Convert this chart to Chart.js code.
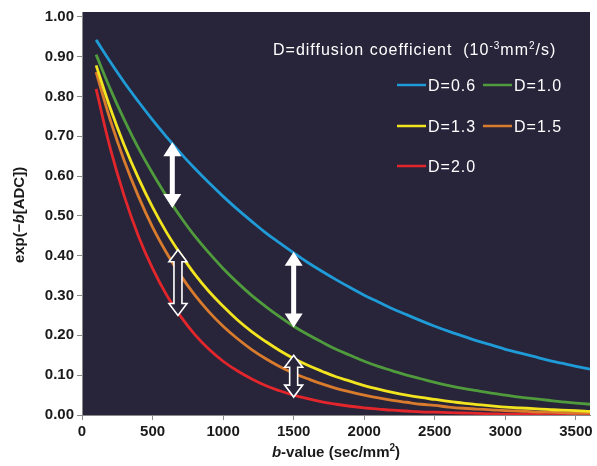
<!DOCTYPE html>
<html>
<head>
<meta charset="utf-8">
<script src="https://cdn.jsdelivr.net/npm/chart.js@4.4.1/dist/chart.umd.min.js"></script>
<style>
  body { margin: 0; background: #fff; }
  #wrap { width: 597px; height: 466px; }
</style>
</head>
<body>
<div id="wrap"><canvas id="chart" width="597" height="466"></canvas></div>
<script>
// b-values (sec/mm2) and signal
const bValues = [100, 200, 300, 400, 500, 600, 700, 800, 900, 1000, 1100, 1200,
  1300, 1400, 1500, 1600, 1700, 1800, 1900, 2000, 2100, 2200, 2300, 2400,
  2500, 2600, 2700, 2800, 2900, 3000, 3100, 3200, 3300, 3400, 3500, 3600];

const d06 = [0.942, 0.887, 0.835, 0.787, 0.741, 0.698, 0.657, 0.619, 0.583, 0.549, 0.517, 0.487,
  0.458, 0.432, 0.407, 0.383, 0.361, 0.340, 0.320, 0.301, 0.284, 0.267, 0.252, 0.237,
  0.223, 0.210, 0.198, 0.186, 0.176, 0.165, 0.156, 0.147, 0.138, 0.130, 0.122, 0.115];
const d10 = [0.905, 0.819, 0.741, 0.670, 0.607, 0.549, 0.497, 0.449, 0.407, 0.368, 0.333, 0.301,
  0.273, 0.247, 0.223, 0.202, 0.183, 0.165, 0.150, 0.135, 0.122, 0.111, 0.100, 0.091,
  0.082, 0.074, 0.067, 0.061, 0.055, 0.050, 0.045, 0.041, 0.037, 0.033, 0.030, 0.027];
const d13 = [0.878, 0.771, 0.677, 0.595, 0.522, 0.458, 0.403, 0.353, 0.310, 0.273, 0.239, 0.210,
  0.185, 0.162, 0.142, 0.125, 0.110, 0.096, 0.085, 0.074, 0.065, 0.057, 0.050, 0.044,
  0.039, 0.034, 0.030, 0.026, 0.023, 0.020, 0.018, 0.016, 0.014, 0.012, 0.011, 0.009];
const d15 = [0.861, 0.741, 0.638, 0.549, 0.472, 0.407, 0.350, 0.301, 0.259, 0.223, 0.192, 0.165,
  0.142, 0.122, 0.105, 0.091, 0.078, 0.067, 0.058, 0.050, 0.043, 0.037, 0.032, 0.027,
  0.024, 0.020, 0.017, 0.015, 0.013, 0.011, 0.010, 0.008, 0.007, 0.006, 0.005, 0.005];
const d20 = [0.819, 0.670, 0.549, 0.449, 0.368, 0.301, 0.247, 0.202, 0.165, 0.135, 0.111, 0.091,
  0.074, 0.061, 0.050, 0.041, 0.033, 0.027, 0.022, 0.018, 0.015, 0.012, 0.010, 0.008,
  0.007, 0.006, 0.005, 0.004, 0.003, 0.002, 0.002, 0.002, 0.001, 0.001, 0.001, 0.001];

const seriesLabels = ['D=0.6', 'D=1.0', 'D=1.3', 'D=1.5', 'D=2.0'];
const xTicks = [0, 500, 1000, 1500, 2000, 2500, 3000, 3500];
const yTicks = [0, 0.1, 0.2, 0.3, 0.4, 0.5, 0.6, 0.7, 0.8, 0.9, 1.0];

// double arrows: b position, upper and lower value
const solidArrowB = [640, 1500];
const solidArrowTop = [0.685, 0.41];
const solidArrowBottom = [0.52, 0.22];
const hollowArrowB = [680, 1500];
const hollowArrowTop = [0.415, 0.15];
const hollowArrowBottom = [0.25, 0.045];

const seriesData = [d06, d10, d13, d15, d20];
const colors = ['#1f9bd7', '#509b3c', '#f2e41e', '#d97b2c', '#e2262b'];
const plotBg = '#28253b';
const FONT = "'Liberation Sans', Arial, Helvetica, sans-serif";

function drawParts(ctx, parts, x, y, center) {
    let w = 0;
    parts.forEach(p => {
        ctx.font = p.font;
        p.w = ctx.measureText(p.t).width;
        w += p.w;
    });
    let cx = center ? x - w / 2 : x;
    parts.forEach(p => {
        ctx.font = p.font;
        ctx.fillText(p.t, cx, y + (p.dy || 0));
        cx += p.w;
    });
}

function arrowPath(ctx, x, y1, y2, hw, sw, hl) {
    ctx.beginPath();
    ctx.moveTo(x, y1);
    ctx.lineTo(x + hw, y1 + hl);
    ctx.lineTo(x + sw, y1 + hl);
    ctx.lineTo(x + sw, y2 - hl);
    ctx.lineTo(x + hw, y2 - hl);
    ctx.lineTo(x, y2);
    ctx.lineTo(x - hw, y2 - hl);
    ctx.lineTo(x - sw, y2 - hl);
    ctx.lineTo(x - sw, y1 + hl);
    ctx.lineTo(x - hw, y1 + hl);
    ctx.closePath();
}

const decor = {
    id: 'decor',
    beforeDraw(chart) {
        const { ctx, chartArea: a } = chart;
        ctx.save();
        ctx.fillStyle = plotBg;
        ctx.fillRect(a.left, a.top, a.right - a.left, a.bottom - a.top);
        ctx.restore();
    },
    afterDatasetsDraw(chart) {
        const ctx = chart.ctx;
        const xs = chart.scales.x, ys = chart.scales.y;
        ctx.save();
        solidArrowB.forEach((b, i) => {
            const x = xs.getPixelForValue(b);
            arrowPath(ctx, x, ys.getPixelForValue(solidArrowTop[i]), ys.getPixelForValue(solidArrowBottom[i]), 9, 2.5, 14);
            ctx.fillStyle = '#ffffff';
            ctx.fill();
        });
        hollowArrowB.forEach((b, i) => {
            const x = xs.getPixelForValue(b);
            arrowPath(ctx, x, ys.getPixelForValue(hollowArrowTop[i]), ys.getPixelForValue(hollowArrowBottom[i]), 9, 4, 12);
            ctx.fillStyle = plotBg;
            ctx.fill();
            ctx.strokeStyle = '#ffffff';
            ctx.lineWidth = 1.6;
            ctx.stroke();
        });
        ctx.restore();
    },
    afterDraw(chart) {
        const ctx = chart.ctx;
        ctx.save();
        // legend inside the plot
        ctx.fillStyle = '#ffffff';
        ctx.textBaseline = 'alphabetic';
        ctx.letterSpacing = '1px';
        drawParts(ctx, [
            { t: 'D=diffusion coefficient  (10', font: '16px ' + FONT },
            { t: '-3', font: '10px ' + FONT, dy: -6 },
            { t: 'mm', font: '16px ' + FONT },
            { t: '2', font: '10px ' + FONT, dy: -6 },
            { t: '/s)', font: '16px ' + FONT }
        ], 273, 55, false);

        const colX = [397, 483];
        const rowY = [85, 126, 166];
        seriesLabels.forEach((lab, i) => {
            const lx = colX[i % 2], ly = rowY[Math.floor(i / 2)];
            ctx.strokeStyle = colors[i];
            ctx.lineWidth = 2.5;
            ctx.beginPath();
            ctx.moveTo(lx, ly);
            ctx.lineTo(lx + 29, ly);
            ctx.stroke();
            ctx.font = '16px ' + FONT;
            ctx.fillText(lab, lx + 31, ly + 6);
        });

        // axis titles
        ctx.letterSpacing = '0px';
        ctx.fillStyle = '#1a1a1a';
        const bold = 'bold 15px ' + FONT, boldIt = 'italic bold 15px ' + FONT;
        drawParts(ctx, [
            { t: 'b', font: boldIt },
            { t: '-value (sec/mm', font: bold },
            { t: '2', font: 'bold 10px ' + FONT, dy: -6 },
            { t: ')', font: bold }
        ], 336, 457, true);

        ctx.translate(24, 215);
        ctx.rotate(-Math.PI / 2);
        drawParts(ctx, [
            { t: 'exp(\u2212', font: bold },
            { t: 'b', font: boldIt },
            { t: '[ADC])', font: bold }
        ], 0, 0, true);
        ctx.restore();
    }
};

new Chart(document.getElementById('chart'), {
    type: 'line',
    data: {
        datasets: seriesData.map((vals, i) => ({
            label: seriesLabels[i],
            data: bValues.map((b, j) => ({ x: b, y: vals[j] })),
            borderColor: colors[i],
            borderWidth: 2.8,
            pointRadius: 0,
            tension: 0.4,
            fill: false
        }))
    },
    options: {
        responsive: false,
        animation: false,
        layout: { padding: { top: 10, right: 7, left: 0, bottom: 0 } },
        plugins: { legend: { display: false }, tooltip: { enabled: false } },
        scales: {
            x: {
                type: 'linear',
                min: 0,
                max: 3600,
                afterBuildTicks: s => { s.ticks = xTicks.map(v => ({ value: v })); },
                afterFit: s => { s.height = 51; },
                grid: { drawOnChartArea: false, drawTicks: true, tickLength: 5, color: '#8a8a8a' },
                border: { display: true, color: '#8a8a8a', width: 1 },
                ticks: {
                    padding: 3,
                    color: '#1a1a1a',
                    font: { family: FONT, size: 15, weight: 'bold' },
                    maxRotation: 0,
                    callback: v => String(v)
                }
            },
            y: {
                min: 0,
                max: 1.012,
                afterBuildTicks: s => { s.ticks = yTicks.map(v => ({ value: v })); },
                afterFit: s => { s.width = 82; },
                grid: { drawOnChartArea: false, drawTicks: true, tickLength: 5, color: '#8a8a8a' },
                border: { display: true, color: '#8a8a8a', width: 1 },
                ticks: {
                    padding: 3,
                    color: '#1a1a1a',
                    font: { family: FONT, size: 15, weight: 'bold' },
                    callback: v => v.toFixed(2)
                }
            }
        }
    },
    plugins: [decor]
});
</script>
</body>
</html>
